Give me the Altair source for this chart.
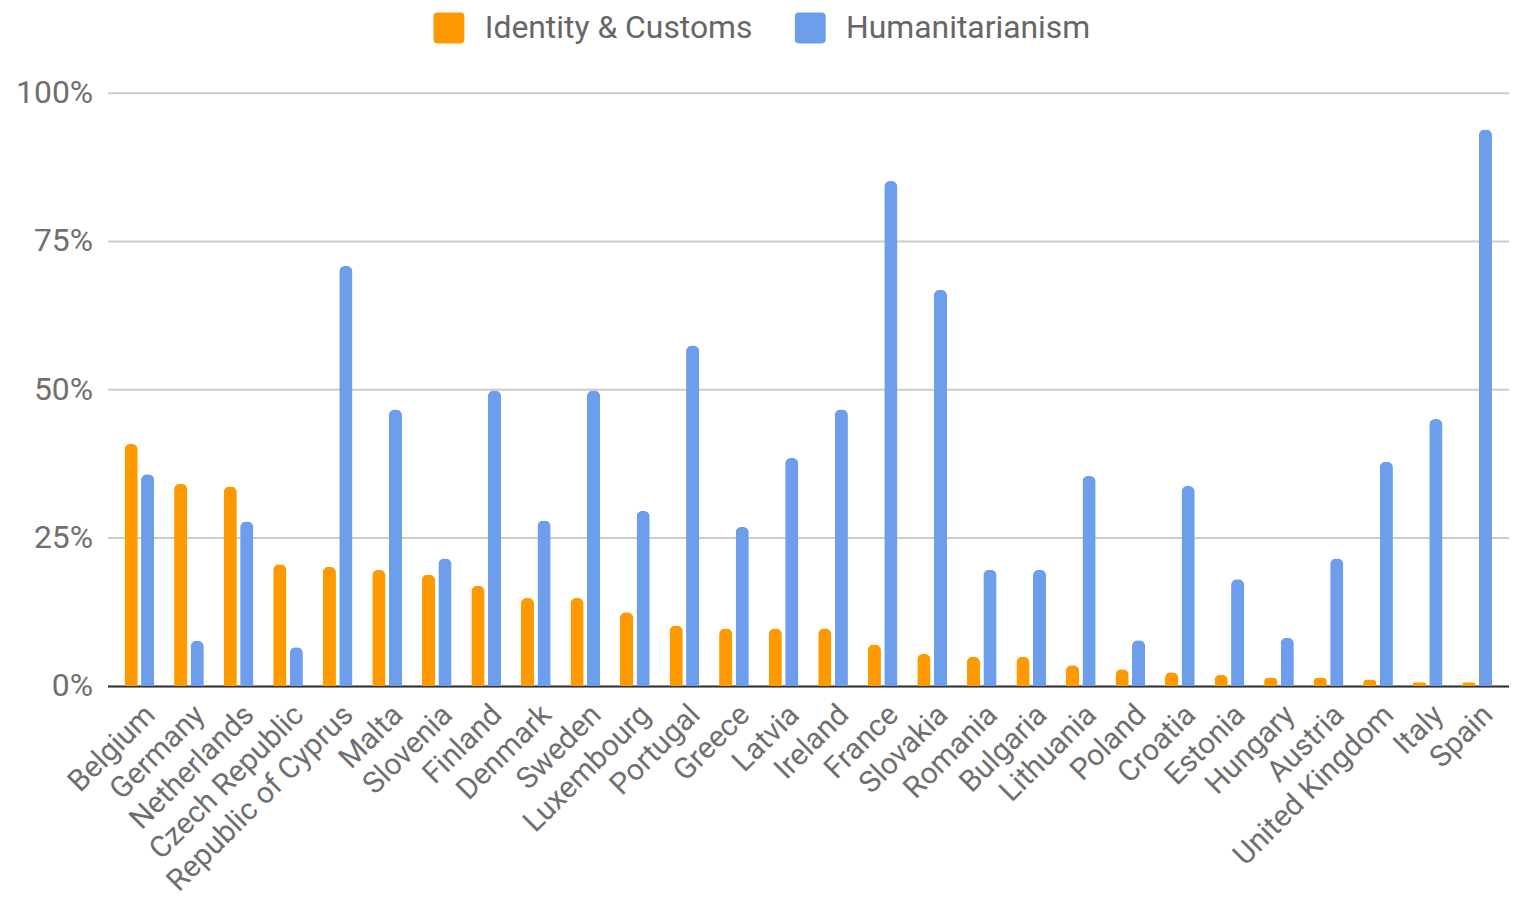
import altair as alt
import pandas as pd

countries = ["Belgium", "Germany", "Netherlands", "Czech Republic", "Republic of Cyprus",
             "Malta", "Slovenia", "Finland", "Denmark", "Sweden", "Luxembourg", "Portugal",
             "Greece", "Latvia", "Ireland", "France", "Slovakia", "Romania", "Bulgaria",
             "Lithuania", "Poland", "Croatia", "Estonia", "Hungary", "Austria",
             "United Kingdom", "Italy", "Spain"]
identity = [40.8, 34.1, 33.6, 20.5, 20.1, 19.6, 18.8, 16.9, 14.8, 14.8, 12.4, 10.2,
            9.7, 9.7, 9.7, 7.0, 5.4, 4.9, 4.9, 3.5, 2.8, 2.3, 1.9, 1.4, 1.4, 1.0, 0.6, 0.6]
humanitarian = [35.7, 7.6, 27.7, 6.5, 70.8, 46.6, 21.5, 49.8, 27.9, 49.8, 29.5, 57.4,
                26.8, 38.4, 46.6, 85.1, 66.8, 19.6, 19.6, 35.4, 7.7, 33.7, 18.0, 8.1, 21.5,
                37.8, 45.0, 93.8]
series = ["Identity & Customs", "Humanitarianism"]
colors = ["#ff9900", "#6d9eeb"]

rows = []
for c, a, b in zip(countries, identity, humanitarian):
    rows.append({"country": c, "series": series[0], "value": a / 100})
    rows.append({"country": c, "series": series[1], "value": b / 100})
df = pd.DataFrame(rows)

FONT = "Roboto"
rounded = "M-0.75,-1 L0.75,-1 Q1,-1 1,-0.75 L1,0.75 Q1,1 0.75,1 L-0.75,1 Q-1,1 -1,0.75 L-1,-0.75 Q-1,-1 -0.75,-1 Z"

chart = alt.Chart(df).mark_bar(cornerRadiusTopLeft=6, cornerRadiusTopRight=6).encode(
    x=alt.X("country:N", sort=countries, title=None,
            scale=alt.Scale(paddingInner=0.4, paddingOuter=0.343),
            axis=alt.Axis(labelAngle=-45, labelFontSize=30, labelColor="#6f6f6f",
                          labelFont=FONT, ticks=False, domainColor="#333333",
                          domainWidth=2, labelPadding=24, labelOffset=11,
                          labelBaseline="middle", labelAlign="right",
                          labelOverlap=False, labelLimit=1000)),
    xOffset=alt.XOffset("series:N", sort=series,
                        scale=alt.Scale(paddingInner=0.2, paddingOuter=0)),
    y=alt.Y("value:Q", title=None,
            scale=alt.Scale(domain=[0, 1]),
            axis=alt.Axis(values=[0, 0.25, 0.5, 0.75, 1], format=".0%", labelFontSize=32,
                          labelColor="#6f6f6f", labelFont=FONT, ticks=False, domain=False,
                          gridColor="#cccccc", gridWidth=2, labelPadding=15)),
    color=alt.Color("series:N", sort=series,
                    scale=alt.Scale(domain=series, range=colors),
                    legend=alt.Legend(title=None, orient="none", legendX=327, legendY=-81,
                                      direction="horizontal", symbolType=rounded,
                                      symbolSize=960, symbolStrokeWidth=0,
                                      labelFontSize=32, labelColor="#666666",
                                      labelFont=FONT, labelOffset=20, columnPadding=42,
                                      labelLimit=1000, padding=0)),
).properties(
    width=1408, height=596,
    autosize=alt.AutoSizeParams(type="none"),
    padding={"left": 100, "top": 83, "right": 0, "bottom": 214},
).configure_view(stroke=None)

chart.save("out.html", embed_options={"renderer": "svg", "actions": False})
